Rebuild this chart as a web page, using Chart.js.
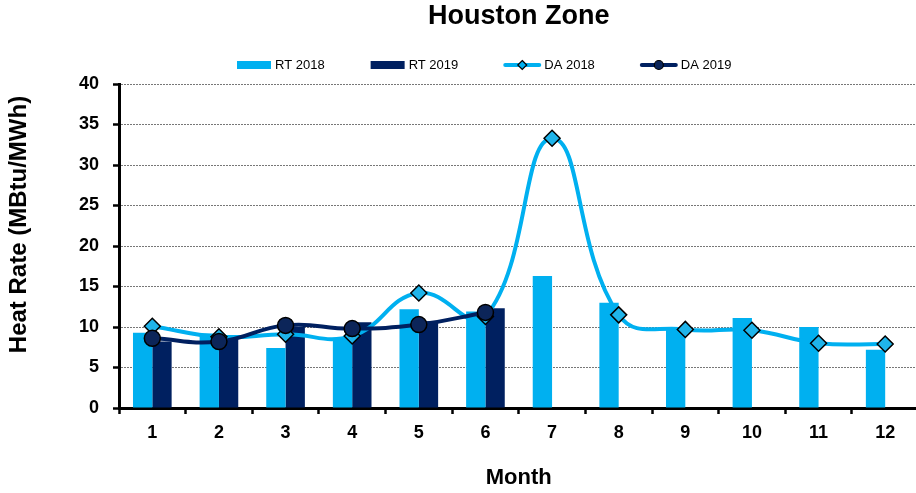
<!DOCTYPE html>
<html>
<head>
<meta charset="utf-8">
<script src="https://cdn.jsdelivr.net/npm/chart.js@4.4.1/dist/chart.umd.min.js"></script>
<style>
  html, body { margin: 0; padding: 0; background: #fff; overflow: hidden; }
  /* a bit wider than the window: the Excel plot area runs off the right edge */
  #wrap { width: 928px; height: 493px; position: relative; }
</style>
</head>
<body>
<div id="wrap"><canvas id="chart"></canvas></div>
<script>
const months = ["1", "2", "3", "4", "5", "6", "7", "8", "9", "10", "11", "12"];
const rt2018 = [9.3, 9.2, 7.4, 8.6, 12.2, 11.9, 16.3, 13.0, 10.0, 11.1, 10.0, 7.2];
const rt2019 = [8.2, 8.5, 10.0, 10.6, 10.7, 12.3, null, null, null, null, null, null];
const da2018 = [10.1, 8.8, 9.1, 8.9, 14.2, 11.3, 33.3, 11.5, 9.7, 9.6, 8.0, 7.9];
const da2019 = [8.6, 8.2, 10.2, 9.8, 10.3, 11.8, null, null, null, null, null, null];

const LIGHT = "#00b0f0";
const DARK = "#002060";
const FONT = "'Liberation Sans', Arial, sans-serif";

Chart.defaults.font.family = FONT;
Chart.defaults.color = "#000";

// legend and y-axis title drawn by hand, placed like the Excel original
const extrasPlugin = {
  id: "excelExtras",
  afterDraw(chart) {
    const ctx = chart.ctx;
    const y = 65;
    const items = [
      { label: "RT 2018", type: "box", color: LIGHT },
      { label: "RT 2019", type: "box", color: DARK },
      { label: "DA 2018", type: "line", color: LIGHT, marker: "diamond" },
      { label: "DA 2019", type: "line", color: DARK, marker: "circle" },
    ];
    ctx.save();
    ctx.font = "13px " + FONT;
    ctx.textBaseline = "middle";
    ctx.fillStyle = "#000";
    let x = 237;
    items.forEach((it) => {
      const sw = it.type === "box" ? 34 : 36;
      if (it.type === "box") {
        ctx.fillStyle = it.color;
        ctx.fillRect(x, y - 4, sw, 8);
      } else {
        ctx.strokeStyle = it.color;
        ctx.lineWidth = 4;
        ctx.lineCap = "round";
        ctx.beginPath();
        ctx.moveTo(x + 1, y);
        ctx.lineTo(x + sw - 1, y);
        ctx.stroke();
        const cx = x + sw / 2;
        ctx.lineWidth = 1.2;
        ctx.strokeStyle = "#000";
        ctx.beginPath();
        if (it.marker === "diamond") {
          ctx.fillStyle = LIGHT;
          ctx.moveTo(cx, y - 4.5);
          ctx.lineTo(cx + 4.5, y);
          ctx.lineTo(cx, y + 4.5);
          ctx.lineTo(cx - 4.5, y);
          ctx.closePath();
        } else {
          ctx.fillStyle = "#0c2559";
          ctx.arc(cx, y, 4.5, 0, Math.PI * 2);
        }
        ctx.fill();
        ctx.stroke();
      }
      ctx.fillStyle = "#000";
      const tx = x + sw + 4;
      ctx.fillText(it.label, tx, y);
      x = tx + ctx.measureText(it.label).width + 46;
    });

    // y axis title
    ctx.translate(19, 224.5);
    ctx.rotate(-Math.PI / 2);
    ctx.font = "bold 24px " + FONT;
    ctx.textAlign = "center";
    ctx.textBaseline = "middle";
    ctx.fillText("Heat Rate (MBtu/MWh)", 0, 0);
    ctx.restore();
  },
};

new Chart(document.getElementById("chart"), {
  type: "bar",
  data: {
    labels: months,
    datasets: [
      {
        label: "RT 2018",
        data: rt2018,
        backgroundColor: LIGHT,
        order: 2,
        categoryPercentage: 0.58,
        barPercentage: 1,
      },
      {
        label: "RT 2019",
        data: rt2019,
        backgroundColor: DARK,
        order: 3,
        categoryPercentage: 0.58,
        barPercentage: 1,
      },
      {
        type: "line",
        label: "DA 2018",
        data: da2018,
        borderColor: LIGHT,
        borderWidth: 4,
        tension: 0.45,
        pointStyle: "rectRot",
        pointRadius: 8,
        pointBackgroundColor: "#1fb4ea",
        pointBorderColor: "#000",
        pointBorderWidth: 1.5,
        order: 1,
      },
      {
        type: "line",
        label: "DA 2019",
        data: da2019,
        borderColor: DARK,
        borderWidth: 4,
        tension: 0.45,
        pointStyle: "circle",
        pointRadius: 8,
        pointBackgroundColor: "#0c2559",
        pointBorderColor: "#000",
        pointBorderWidth: 1.5,
        order: 0,
      },
    ],
  },
  options: {
    responsive: true,
    maintainAspectRatio: false,
    animation: false,
    layout: { padding: 0 },
    plugins: {
      legend: { display: false },
      tooltip: { enabled: false },
      title: {
        display: true,
        text: "Houston Zone",
        fullSize: false,
        font: { size: 27, weight: "bold" },
        color: "#000",
        padding: { top: 0, bottom: 51.6 },
      },
    },
    scales: {
      x: {
        grid: {
          drawOnChartArea: false,
          drawTicks: true,
          tickLength: 6,
          tickColor: "#000",
          tickWidth: 2.5,
        },
        border: { color: "#000", width: 3 },
        ticks: {
          font: { size: 18, weight: "bold" },
          color: "#000",
          padding: 8,
          maxRotation: 0,
        },
        title: {
          display: true,
          text: "Month",
          font: { size: 22, weight: "bold" },
          color: "#000",
          padding: { top: 0, bottom: 2 },
        },
        afterFit(s) { s.height = 85; },
      },
      y: {
        min: 0,
        max: 40,
        ticks: {
          stepSize: 5,
          font: { size: 18, weight: "bold" },
          color: "#000",
          padding: 14,
        },
        grid: {
          color: "#777",
          lineWidth: 1,
          tickLength: 6,
          tickColor: "#000",
          tickWidth: 2.5,
          tickBorderDash: [],
        },
        border: { color: "#000", width: 3, dash: [2, 1] },
        title: { display: false },
        afterFit(s) { s.width = 119; },
      },
    },
  },
  plugins: [extrasPlugin],
});
</script>
</body>
</html>
